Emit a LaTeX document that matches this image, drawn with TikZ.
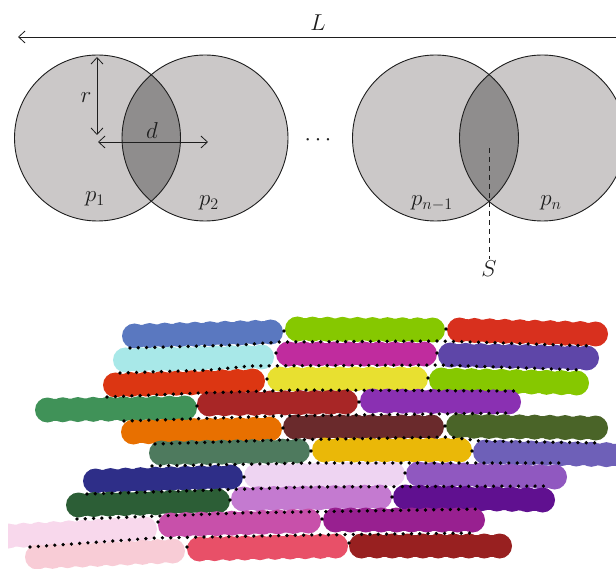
\RequirePackage{fix-cm}
\documentclass[tikz,border=0pt]{standalone}
\usetikzlibrary{arrows.meta}
\definecolor{cgray}{HTML}{CBC8C8}
\definecolor{lgray}{HTML}{8F8D8D}
\definecolor{ink}{HTML}{1E1E1E}
% bar colours
\definecolor{bA1}{HTML}{5A78C0}\definecolor{bA2}{HTML}{86C800}\definecolor{bA3}{HTML}{D8301E}
\definecolor{bB1}{HTML}{A8E8E8}\definecolor{bB2}{HTML}{C02C9E}\definecolor{bB3}{HTML}{5E46A8}
\definecolor{bC1}{HTML}{DC3612}\definecolor{bC2}{HTML}{E8E030}\definecolor{bC3}{HTML}{86C800}
\definecolor{bD1}{HTML}{409258}\definecolor{bD2}{HTML}{A82626}\definecolor{bD3}{HTML}{8A30B2}
\definecolor{bE1}{HTML}{E87000}\definecolor{bE2}{HTML}{6A2A2C}\definecolor{bE3}{HTML}{4A6428}
\definecolor{bF1}{HTML}{4E7A5E}\definecolor{bF2}{HTML}{EAB808}\definecolor{bF3}{HTML}{6E60B8}
\definecolor{bG1}{HTML}{2E2E88}\definecolor{bG2}{HTML}{EED4F2}\definecolor{bG3}{HTML}{9058C0}
\definecolor{bH1}{HTML}{2C5E36}\definecolor{bH2}{HTML}{C47AD0}\definecolor{bH3}{HTML}{601090}
\definecolor{bI1}{HTML}{F8D8EC}\definecolor{bI2}{HTML}{C850AA}\definecolor{bI3}{HTML}{982090}
\definecolor{bJ1}{HTML}{F8CCD6}\definecolor{bJ2}{HTML}{E85068}\definecolor{bJ3}{HTML}{982020}
\newcommand{\capbar}[5]{%
  \draw[#1, line width=22pt] ({#2+12.5},{#3}) -- ({#4-12.5},{#5});
  \foreach \i in {0,...,9}{%
    \fill[#1] ({#2+12.5+\i*(#4-#2-25)/9},{#3+\i*(#5-#3)/9}) circle[radius=12.5pt];
  }}
\newcommand{\jdot}[2]{\fill[black] (#1,#2) circle[radius=1.9pt];}
\tikzset{
  lbl/.style={inner sep=1pt, text=ink, font=\fontsize{23}{27}\selectfont},
  dimarrow/.style={draw=ink, line width=0.8pt},
  barb/.tip={Straight Barb[length=6.5pt,width=12pt]},
  dotline/.style={draw=black, line width=3.7pt, dash pattern=on 0pt off 8.3pt, line cap=round},
  outline/.style={draw=ink, line width=0.9pt}
}
\begin{document}
\begin{tikzpicture}[x=1pt,y=-1pt]
\clip (0,0) rectangle (616,569);
\fill[white] (0,0) rectangle (616,569);

% ---------- upper figure ----------
\coordinate (c1) at (97.5,138);
\coordinate (c2) at (205,138);
\coordinate (c3) at (435.5,138);
\coordinate (c4) at (542.5,138);
\foreach \c in {c1,c2,c3,c4} \fill[cgray] (\c) circle[radius=83pt];
\begin{scope}\clip (c1) circle[radius=83pt]; \fill[lgray] (c2) circle[radius=83pt];\end{scope}
\begin{scope}\clip (c3) circle[radius=83pt]; \fill[lgray] (c4) circle[radius=83pt];\end{scope}
\foreach \c in {c1,c2,c3,c4} \draw[outline] (\c) circle[radius=83pt];

\coordinate (Lw) at (18,37);
\coordinate (Le) at (620,37);
\draw[dimarrow, barb-] (Lw) -- (Le);
\node[lbl] (L) at (318,23) {$L$};

\coordinate (rt) at (97,57);
\coordinate (rb) at (97,135);
\draw[dimarrow, barb-barb] (rt) -- (rb);
\node[lbl] (r) at (86,98) {$r$};

\coordinate (dl) at (98,142);
\coordinate (dr) at (208,142);
\draw[dimarrow, barb-barb] (dl) -- (dr);
\node[lbl] (d) at (152,131) {$d$};

\node[lbl] (p1) at (95,199) {$p_1$};
\node[lbl] (p2) at (209,203) {$p_2$};
\node[lbl] (pn1) at (432,203) {$p_{n-1}$};
\node[lbl] (pn) at (551,203) {$p_n$};
\node[lbl] (dots) at (318,140) {$\cdots$};

\coordinate (Stop) at (489,148);
\node[lbl, inner sep=2pt] (S) at (489,269) {$S$};
\draw[draw=ink, line width=0.8pt, dash pattern=on 5pt off 4pt] (Stop) -- (S.north);

% ---------- lower figure ----------
% row 1
\capbar{bA1}{122}{336}{283}{332}
\capbar{bA2}{285}{329}{445}{330}
\capbar{bA3}{447}{330}{608}{334}
% row 2
\capbar{bB1}{113}{360}{274}{357}
\capbar{bB2}{276}{354}{437}{354}
\capbar{bB3}{438}{355}{599}{358}
% row 3
\capbar{bC1}{103}{385}{265}{381}
\capbar{bC2}{267}{379}{428}{379}
\capbar{bC3}{429}{380}{589}{383}
% row 4
\capbar{bD1}{35}{410}{197}{408}
\capbar{bD2}{197}{404}{358}{402}
\capbar{bD3}{360}{401}{521}{402}
% row 5
\capbar{bE1}{121}{432}{282}{429}
\capbar{bE2}{283}{427}{444}{427}
\capbar{bE3}{446}{426}{608}{428}
% row 6
\capbar{bF1}{149}{453}{310}{451}
\capbar{bF2}{312}{450}{472}{450}
\capbar{bF3}{473}{452}{634}{455}
% row 7
\capbar{bG1}{83}{481}{243}{477}
\capbar{bG2}{244}{476}{405}{474}
\capbar{bG3}{406}{474}{567}{477}
% row 8
\capbar{bH1}{66}{505}{230}{501}
\capbar{bH2}{231}{499}{392}{497}
\capbar{bH3}{393}{497}{555}{500}
% row 9
\begin{scope}
\clip (8,490) rectangle (200,569);
\capbar{bI1}{-4}{536}{157}{529}
\end{scope}
\capbar{bI2}{158}{525}{321}{521}
\capbar{bI3}{323}{520}{485}{520}
% row 10
\capbar{bJ1}{25}{557}{185}{551}
\capbar{bJ2}{187}{549}{348}{546}
\capbar{bJ3}{349}{546}{512}{546}

% dotted boundaries
\draw[dotline] (130,348) -- (240,345) -- (280,342) -- (440,341) -- (592,346);
\draw[dotline] (120,373) -- (210,370) -- (250,366) -- (440,365) -- (582,370);
\draw[dotline] (107,397) -- (200,393) -- (300,390) -- (517,391);
\draw[dotline] (124,421) -- (280,416) -- (510,413);
\draw[dotline] (155,444) -- (280,440) -- (450,437) -- (480,441) -- (602,443);
\draw[dotline] (152,466) -- (310,463) -- (563,463);
\draw[dotline] (87,494) -- (310,487) -- (548,486);
\draw[dotline] (77,519) -- (240,513) -- (482,509);
\draw[dotline] (30,547) -- (155,538) -- (310,535) -- (477,533);

% junction dots
\jdot{284}{331}\jdot{446}{329}
\jdot{276}{353}\jdot{437}{353}
\jdot{267}{379}\jdot{428}{378}
\jdot{197}{406}\jdot{359}{402}
\jdot{283}{428}\jdot{445}{426}
\jdot{311}{451}\jdot{472}{451}
\jdot{244}{477}\jdot{405}{473}
\jdot{230}{500}\jdot{392}{497}
\jdot{158}{522}\jdot{322}{519}
\jdot{187}{547}\jdot{349}{543}
\end{tikzpicture}
\end{document}
